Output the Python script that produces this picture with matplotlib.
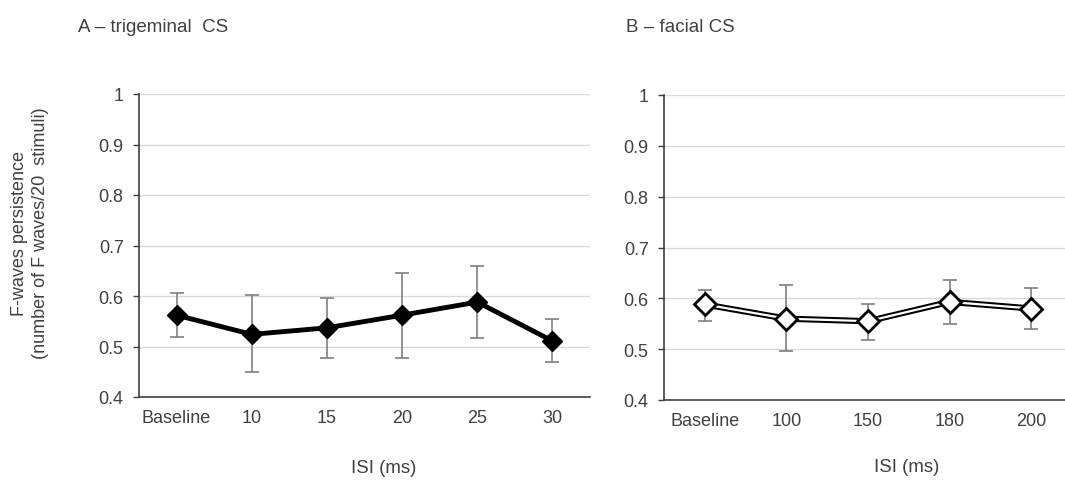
import matplotlib
matplotlib.use("Agg")
import matplotlib.pyplot as plt
import numpy as np

plt.rcParams['font.family'] = ['Liberation Sans', 'DejaVu Sans']

# Data
cats_a = ["Baseline", "10", "15", "20", "25", "30"]
mean_a = [0.562, 0.524, 0.537, 0.562, 0.588, 0.511]
upper_a = [0.605, 0.601, 0.596, 0.646, 0.660, 0.555]
lower_a = [0.518, 0.450, 0.477, 0.477, 0.516, 0.469]

cats_b = ["Baseline", "100", "150", "180", "200"]
mean_b = [0.588, 0.560, 0.555, 0.593, 0.580]
upper_b = [0.616, 0.626, 0.589, 0.637, 0.621]
lower_b = [0.556, 0.497, 0.519, 0.549, 0.539]

yticks = [0.4, 0.5, 0.6, 0.7, 0.8, 0.9, 1.0]
ytick_labels = ["0.4", "0.5", "0.6", "0.7", "0.8", "0.9", "1"]

txt = '#404040'
W, H = 1065, 485
fig = plt.figure(figsize=(W/100, H/100), dpi=100)

def px_axes(x0, x1, y0, y1):
    return fig.add_axes([x0/W, 1-y1/H, (x1-x0)/W, (y1-y0)/H])

axA = px_axes(139, 590, 95, 398)
axB = px_axes(664, 1072, 96, 401)

def style(ax, cats):
    ax.set_ylim(0.4, 1.0)
    ax.set_xlim(-0.5, len(cats)-0.5)
    ax.set_yticks(yticks)
    ax.set_yticklabels(ytick_labels)
    ax.set_xticks(range(len(cats)))
    ax.set_xticklabels(cats)
    for s in ['top', 'right']:
        ax.spines[s].set_visible(False)
    for s in ['left', 'bottom']:
        ax.spines[s].set_color('#404040')
        ax.spines[s].set_linewidth(1.2)
    ax.tick_params(axis='y', length=4, width=1, color='#404040', pad=7,
                   labelsize=13, labelcolor=txt)
    ax.tick_params(axis='x', length=0, pad=9, labelsize=13, labelcolor=txt)
    for v in yticks[1:]:
        ax.axhline(v, color='#d9d9d9', lw=1, zorder=0)

style(axA, cats_a)
style(axB, cats_b)

xa = np.arange(len(cats_a))
ea = [np.array(mean_a)-np.array(lower_a), np.array(upper_a)-np.array(mean_a)]
axA.errorbar(xa, mean_a, yerr=ea, fmt='none', ecolor='#7f7f7f', elinewidth=1.2,
             capsize=5, capthick=1.2, zorder=2)
axA.plot(xa, mean_a, color='black', lw=3.5, marker='D', markersize=10,
         markerfacecolor='black', markeredgecolor='black', zorder=3)

xb = np.arange(len(cats_b))
eb = [np.array(mean_b)-np.array(lower_b), np.array(upper_b)-np.array(mean_b)]
axB.errorbar(xb, mean_b, yerr=eb, fmt='none', ecolor='#7f7f7f', elinewidth=1.2,
             capsize=5, capthick=1.2, zorder=2)
axB.plot(xb, mean_b, color='black', lw=4.5, zorder=3, solid_capstyle='butt')
axB.plot(xb, mean_b, color='white', lw=1.6, zorder=4)
axB.plot(xb, mean_b, ls='none', marker='D', markersize=11,
         markerfacecolor='white', markeredgecolor='black', markeredgewidth=2, zorder=5)

fig.text(78/W, 1-27/H, "A – trigeminal  CS", fontsize=13.5, color=txt, va='center', ha='left')
fig.text(626/W, 1-27/H, "B – facial CS", fontsize=13.5, color=txt, va='center', ha='left')

fig.text(384/W, 1-469/H, "ISI (ms)", fontsize=13.4, color=txt, ha='center', va='center')
fig.text(907/W, 1-468/H, "ISI (ms)", fontsize=13.4, color=txt, ha='center', va='center')

fig.text(30/W, 1-233/H, "F-waves persistence\n(number of F waves/20  stimuli)", fontsize=13,
         color=txt, rotation=90, ha='center', va='center', linespacing=1.3)

fig.savefig("out.png", dpi=100)
